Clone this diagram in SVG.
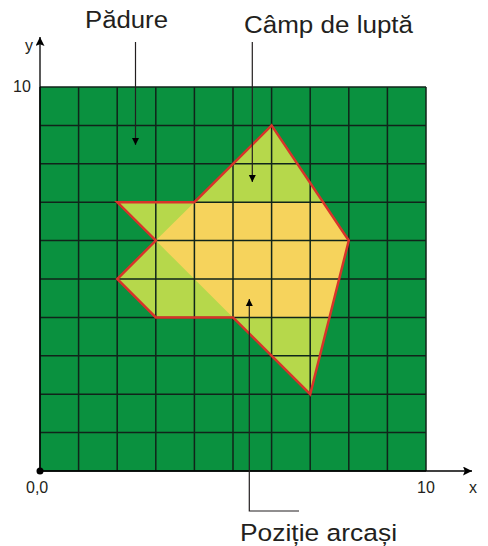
<svg xmlns="http://www.w3.org/2000/svg" width="488" height="546" viewBox="0 0 488 546">
<style>
.t{font-family:"Liberation Sans",Arial,sans-serif;fill:#231f20}
.lbl{font-size:23.5px}
.num{font-size:16px}
.grid{fill:none;stroke:#10241a;stroke-width:1.5}
.lead{fill:none;stroke:#231f20;stroke-width:1.2}
</style>
<defs>
<marker id="ah" viewBox="0 0 10 10" refX="10" refY="5" markerWidth="7" markerHeight="9" markerUnits="userSpaceOnUse" orient="auto">
<path d="M0,0 L10,5 L0,10 Z" fill="#000"/>
</marker>
<marker id="ax" viewBox="0 0 10 10" refX="10" refY="5" markerWidth="12" markerHeight="9" markerUnits="userSpaceOnUse" orient="auto">
<path d="M0,0 L10,5 L0,10 L2,5 Z" fill="#000"/>
</marker>
</defs>
<rect width="488" height="546" fill="#fff"/>
<g id="padure">
<rect x="40" y="87" width="386" height="384" fill="#0a913f"/>
</g>
<g id="camp-de-lupta">
<polygon points="117.2,202.2 155.8,240.6 117.2,279 155.8,317.4 233,317.4 310.2,394.2 348.8,240.6 271.6,125.4 194.4,202.2" fill="#b6d84b"/>
</g>
<g id="pozitie-arcasi">
<polygon points="194.4,202.2 155.8,240.6 233,317.4 329.5,317.4 348.8,240.6 323.1,202.2" fill="#f6d35c"/>
</g>
<g id="grid">
<path class="grid" d="M40,87V471M78.6,87V471M117.2,87V471M155.8,87V471M194.4,87V471M233,87V471M271.6,87V471M310.2,87V471M348.8,87V471M387.4,87V471M426,87V471M40,87H426M40,125.4H426M40,163.8H426M40,202.2H426M40,240.6H426M40,279H426M40,317.4H426M40,355.8H426M40,394.2H426M40,432.6H426M40,471H426"/>
</g>
<g id="outline">
<polygon points="117.2,202.2 155.8,240.6 117.2,279 155.8,317.4 233,317.4 310.2,394.2 348.8,240.6 271.6,125.4 194.4,202.2" fill="none" stroke="#d8332a" stroke-width="2.5" stroke-linejoin="miter"/>
</g>
<g id="connectors">
<line x1="40" y1="471" x2="40" y2="37" stroke="#000" stroke-width="1.3" marker-end="url(#ax)"/>
<line x1="40" y1="471" x2="472" y2="471" stroke="#000" stroke-width="1.3" marker-end="url(#ax)"/>
<path class="lead" d="M135.5,42V145" marker-end="url(#ah)"/>
<path class="lead" d="M252.3,42V182" marker-end="url(#ah)"/>
<path class="lead" d="M299,511H249.3V299" marker-end="url(#ah)"/>
</g>
<g id="origin"><circle cx="40" cy="471" r="3.5" fill="#000"/></g>
<g id="labels">
<text class="t lbl" x="85" y="28" textLength="83" lengthAdjust="spacingAndGlyphs">Pădure</text>
<text class="t lbl" x="244" y="33" textLength="169" lengthAdjust="spacingAndGlyphs">Câmp de luptă</text>
<text class="t lbl" x="240" y="541" textLength="157" lengthAdjust="spacingAndGlyphs" style="font-size:24.5px">Poziție arcași</text>
<text class="t num" x="25" y="51">y</text>
<text class="t num" x="13" y="92">10</text>
<text class="t num" x="26" y="493">0,0</text>
<text class="t num" x="417" y="493">10</text>
<text class="t num" x="469" y="493">x</text>
</g>
</svg>
